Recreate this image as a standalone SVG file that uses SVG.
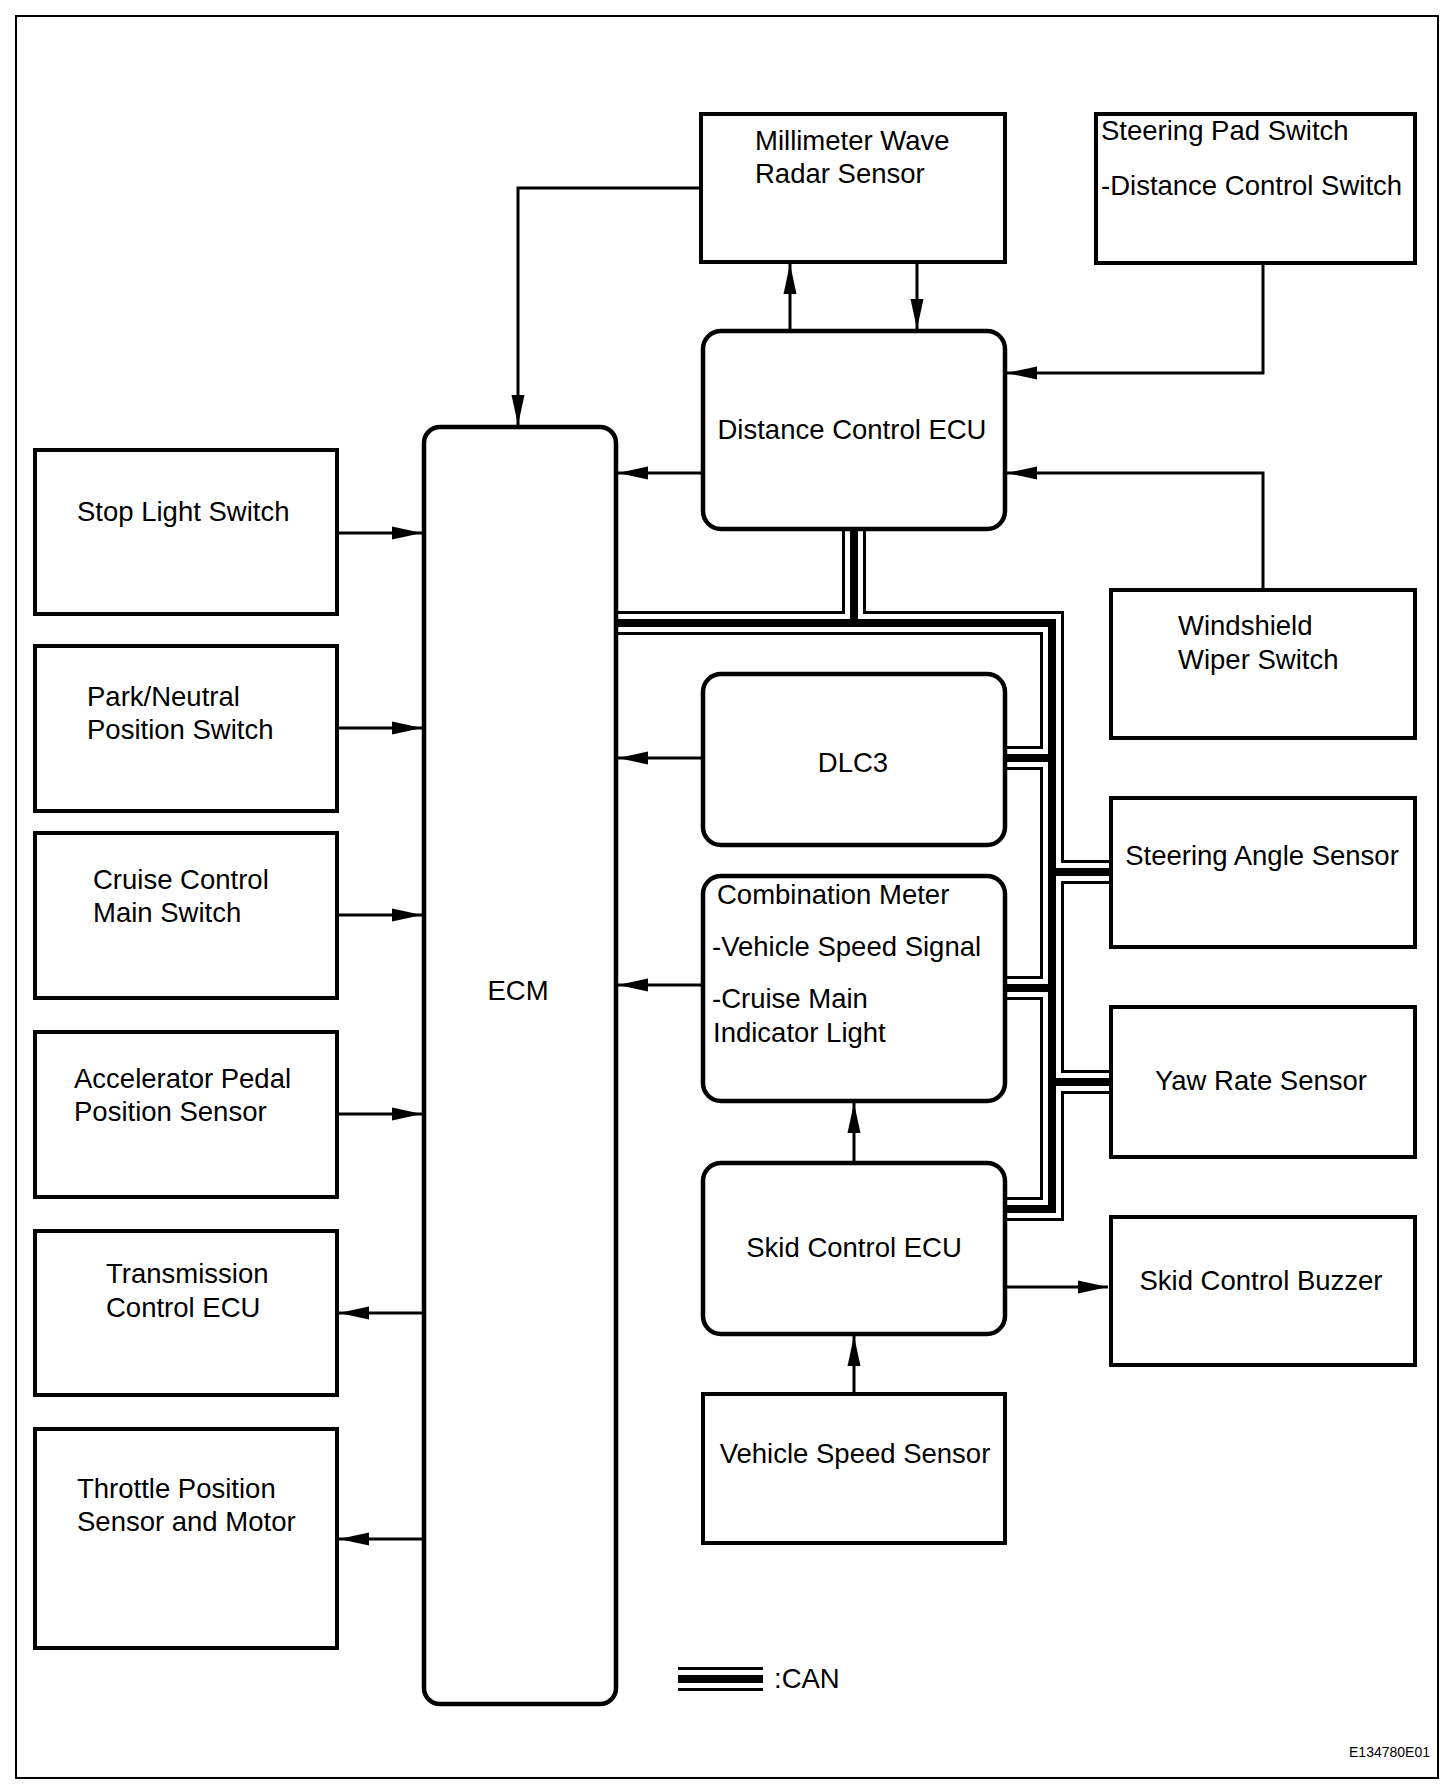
<svg xmlns="http://www.w3.org/2000/svg" width="1456" height="1792" viewBox="0 0 1456 1792">
<style>
.box{fill:#fff;stroke:#000;stroke-width:4}
.rbox{fill:#fff;stroke:#000;stroke-width:4.5}
.t{font-family:"Liberation Sans",Arial,sans-serif;font-size:27.5px;fill:#000}
.m{text-anchor:middle}
.ln{fill:none;stroke:#000;stroke-width:3}
.c1{fill:none;stroke:#000;stroke-width:24;stroke-linejoin:miter}
.c2{fill:none;stroke:#fff;stroke-width:18;stroke-linejoin:miter}
.c3{fill:none;stroke:#000;stroke-width:8;stroke-linejoin:miter}
</style>
<defs>
<marker id="ah" markerUnits="userSpaceOnUse" markerWidth="30" markerHeight="14" refX="30" refY="7" orient="auto">
<path d="M0,0.5 L30,7 L0,13.5 z" fill="#000"/>
</marker>
<path id="can" d="M854,529 V623 M617,623 H1052 V1209 H1005 M1005,758 H1052 M1005,988 H1052 M1052,872 H1110 M1052,1082 H1110"/>
</defs>
<rect x="16" y="16" width="1422" height="1762" fill="#fff" stroke="#000" stroke-width="2"/>
<g id="connectors">
<g id="can-bus">
<use href="#can" class="c1"/>
<use href="#can" class="c2"/>
<use href="#can" class="c3"/>
</g>
<path class="ln" marker-end="url(#ah)" d="M701,188 H518 V425"/>
<path class="ln" marker-end="url(#ah)" d="M790,331 V264"/>
<path class="ln" marker-end="url(#ah)" d="M917,262 V329"/>
<path class="ln" marker-end="url(#ah)" d="M1263,263 V373 H1007"/>
<path class="ln" marker-end="url(#ah)" d="M1263,590 V473 H1007"/>
<path class="ln" marker-end="url(#ah)" d="M703,473 H618"/>
<path class="ln" marker-end="url(#ah)" d="M703,758 H618"/>
<path class="ln" marker-end="url(#ah)" d="M703,985 H618"/>
<path class="ln" marker-end="url(#ah)" d="M854,1163 V1103"/>
<path class="ln" marker-end="url(#ah)" d="M854,1394 V1336"/>
<path class="ln" marker-end="url(#ah)" d="M1005,1287 H1108"/>
<path class="ln" marker-end="url(#ah)" d="M337,533 H422"/>
<path class="ln" marker-end="url(#ah)" d="M337,728 H422"/>
<path class="ln" marker-end="url(#ah)" d="M337,915 H422"/>
<path class="ln" marker-end="url(#ah)" d="M337,1114 H422"/>
<path class="ln" marker-end="url(#ah)" d="M424,1313 H339"/>
<path class="ln" marker-end="url(#ah)" d="M424,1539 H339"/>
</g>
<g id="mwrs"><rect class="box" x="701" y="114" width="304" height="148"/>
<text class="t" x="755" y="150">Millimeter Wave</text><text class="t" x="755" y="183">Radar Sensor</text></g>
<g id="sps"><rect class="box" x="1096" y="114" width="319" height="149"/>
<text class="t" x="1101" y="140">Steering Pad Switch</text><text class="t" x="1101" y="195">-Distance Control Switch</text></g>
<g id="dcu"><rect class="rbox" x="703" y="331" width="302" height="198" rx="18"/>
<text class="t m" x="852" y="439">Distance Control ECU</text></g>
<g id="ecm"><rect class="rbox" x="424" y="427" width="192" height="1277" rx="16"/>
<text class="t m" x="518" y="1000">ECM</text></g>
<g id="stop"><rect class="box" x="35" y="450" width="302" height="164"/>
<text class="t" x="77" y="521">Stop Light Switch</text></g>
<g id="park"><rect class="box" x="35" y="646" width="302" height="165"/>
<text class="t" x="87" y="706">Park/Neutral</text><text class="t" x="87" y="739">Position Switch</text></g>
<g id="cruise"><rect class="box" x="35" y="833" width="302" height="165"/>
<text class="t" x="93" y="889">Cruise Control</text><text class="t" x="93" y="922">Main Switch</text></g>
<g id="accel"><rect class="box" x="35" y="1032" width="302" height="165"/>
<text class="t" x="74" y="1088">Accelerator Pedal</text><text class="t" x="74" y="1121">Position Sensor</text></g>
<g id="trans"><rect class="box" x="35" y="1231" width="302" height="164"/>
<text class="t" x="106" y="1283">Transmission</text><text class="t" x="106" y="1317">Control ECU</text></g>
<g id="throttle"><rect class="box" x="35" y="1429" width="302" height="219"/>
<text class="t" x="77" y="1498">Throttle Position</text><text class="t" x="77" y="1531">Sensor and Motor</text></g>
<g id="dlc3"><rect class="rbox" x="703" y="674" width="302" height="171" rx="18"/>
<text class="t m" x="853" y="772">DLC3</text></g>
<g id="combo"><rect class="rbox" x="703" y="876" width="302" height="225" rx="18"/>
<text class="t" x="717" y="904">Combination Meter</text>
<text class="t" x="712" y="956">-Vehicle Speed Signal</text>
<text class="t" x="712" y="1008">-Cruise Main</text>
<text class="t" x="713" y="1042">Indicator Light</text></g>
<g id="skid"><rect class="rbox" x="703" y="1163" width="302" height="171" rx="18"/>
<text class="t m" x="854" y="1257">Skid Control ECU</text></g>
<g id="vss"><rect class="box" x="703" y="1394" width="302" height="149"/>
<text class="t m" x="855" y="1463">Vehicle Speed Sensor</text></g>
<g id="wiper"><rect class="box" x="1111" y="590" width="304" height="148"/>
<text class="t" x="1178" y="635">Windshield</text><text class="t" x="1178" y="669">Wiper Switch</text></g>
<g id="steer"><rect class="box" x="1111" y="798" width="304" height="149"/>
<text class="t m" x="1262" y="865">Steering Angle Sensor</text></g>
<g id="yaw"><rect class="box" x="1111" y="1007" width="304" height="150"/>
<text class="t m" x="1261" y="1090">Yaw Rate Sensor</text></g>
<g id="buzzer"><rect class="box" x="1111" y="1217" width="304" height="148"/>
<text class="t m" x="1261" y="1290">Skid Control Buzzer</text></g>
<g id="legend">
<path class="c1" d="M678,1679 H763"/><path class="c2" d="M678,1679 H763"/><path class="c3" d="M678,1679 H763"/>
<text class="t" x="774" y="1688">:CAN</text></g>
<text x="1430" y="1757" font-family="Liberation Sans,Arial,sans-serif" font-size="14" text-anchor="end">E134780E01</text>
</svg>
